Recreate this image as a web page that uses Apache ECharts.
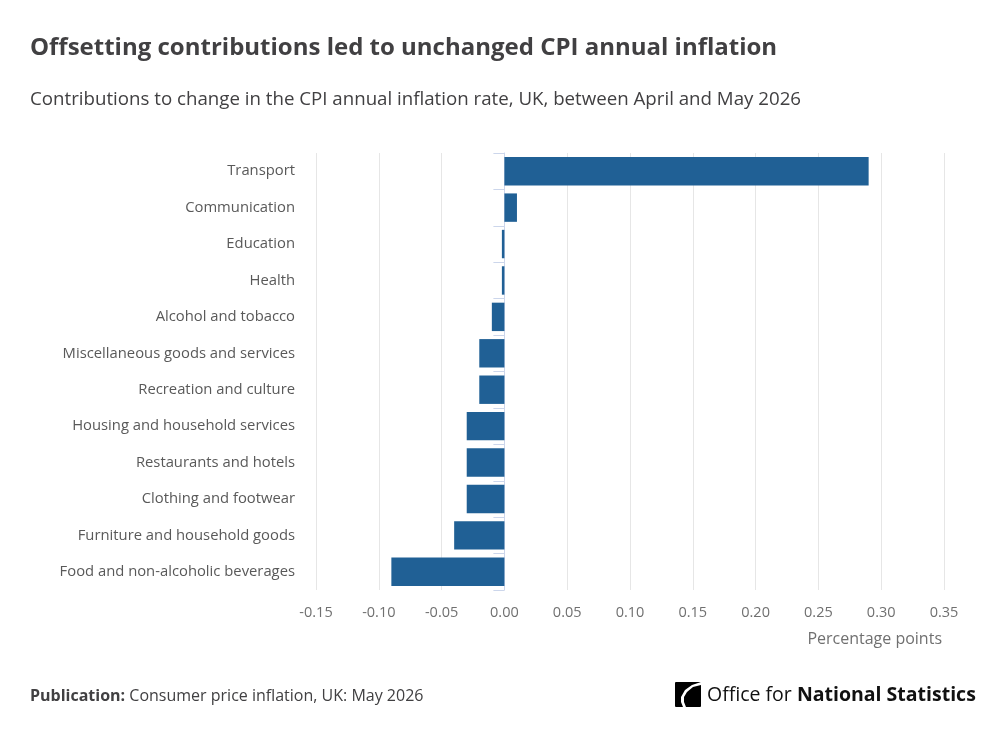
<!DOCTYPE html>
<html>
<head>
<meta charset="utf-8">
<script src="https://cdn.jsdelivr.net/npm/echarts@6/dist/echarts.min.js"></script>
<style>
  html, body { margin: 0; padding: 0; background: #fff; }
  #chart { width: 1002px; height: 735px; }
</style>
</head>
<body>
<div id="chart"></div>
<script>
// categories top to bottom
var categories = [
  'Transport',
  'Communication',
  'Education',
  'Health',
  'Alcohol and tobacco',
  'Miscellaneous goods and services',
  'Recreation and culture',
  'Housing and household services',
  'Restaurants and hotels',
  'Clothing and footwear',
  'Furniture and household goods',
  'Food and non-alcoholic beverages'
]
// contribution in percentage points
var contributions = [0.29, 0.01, -0.002, -0.002, -0.01, -0.02, -0.02, -0.03, -0.03, -0.03, -0.04, -0.09]
var xTicks = { min: -0.15, max: 0.35, step: 0.05 }

var font = '"Open Sans", "Noto Sans", sans-serif'
var chart = echarts.init(document.getElementById('chart'))

chart.setOption({
  backgroundColor: '#fff',
  animation: false,
  textStyle: { fontFamily: font },
  title: [
    {
      text: 'Offsetting contributions led to unchanged CPI annual inflation',
      left: 30,
      top: 36,
      padding: 0,
      textStyle: { fontSize: 24, fontWeight: 'bold', color: '#414042', fontFamily: font }
    },
    {
      text: 'Contributions to change in the CPI annual inflation rate, UK, between April and May 2026',
      left: 30,
      top: 90,
      padding: 0,
      textStyle: { fontSize: 18.7, fontWeight: 'normal', color: '#414042', fontFamily: font }
    }
  ],
  grid: {
    left: 316,
    right: 58,
    top: 153,
    bottom: 145
  },
  xAxis: {
    type: 'value',
    min: xTicks.min,
    max: xTicks.max,
    interval: xTicks.step,
    name: 'Percentage points',
    nameLocation: 'end',
    nameGap: 0,
    nameTextStyle: {
      align: 'right',
      verticalAlign: 'top',
      padding: [41, 2, 0, 0],
      fontSize: 16,
      color: '#707070'
    },
    axisLine: { show: false },
    axisTick: { show: false },
    axisLabel: {
      margin: 15,
      fontSize: 14.5,
      color: '#707070',
      formatter: function (v) { return v.toFixed(2) }
    },
    splitLine: { lineStyle: { color: '#e6e6e6' } }
  },
  yAxis: {
    type: 'category',
    inverse: true,
    data: categories,
    axisLine: { show: true, lineStyle: { color: '#ccd6eb' } },
    axisTick: { show: true, length: 11, lineStyle: { color: '#ccd6eb' } },
    axisLabel: { margin: 21, fontSize: 14.8, color: '#595959', padding: [6, 0, 0, 0] },
    splitLine: { show: false }
  },
  series: [
    {
      type: 'bar',
      data: contributions,
      barCategoryGap: '22%',
      itemStyle: { color: '#206095' }
    }
  ],
  graphic: [
    {
      type: 'text',
      left: 30,
      top: 688,
      style: {
        text: '{b|Publication:} Consumer price inflation, UK: May 2026',
        fontSize: 16,
        fill: '#414042',
        fontFamily: font,
        rich: {
          b: { fontWeight: 'bold', fontSize: 16, fill: '#414042', fontFamily: font }
        }
      }
    },
    {
      type: 'group',
      left: 675,
      top: 682,
      children: [
        {
          type: 'rect',
          shape: { x: 0, y: 0, width: 26, height: 25, r: 1 },
          style: { fill: '#000' }
        },
        {
          type: 'polygon',
          shape: {
            points: [[26, 0], [17, 3], [10, 8], [6, 15], [6, 20], [8, 25],
              [11, 25], [9, 20], [9, 15], [12, 10], [18, 5], [26, 3]]
          },
          style: { fill: '#fff' }
        },
        {
          type: 'text',
          x: 32,
          y: 3,
          style: {
            text: 'Office for {b|National Statistics}',
            fontSize: 19.5,
            fill: '#111',
            fontFamily: font,
            rich: {
              b: { fontWeight: 'bold', fontSize: 19.5, fill: '#111', fontFamily: font }
            }
          }
        }
      ]
    }
  ]
})
</script>
</body>
</html>
